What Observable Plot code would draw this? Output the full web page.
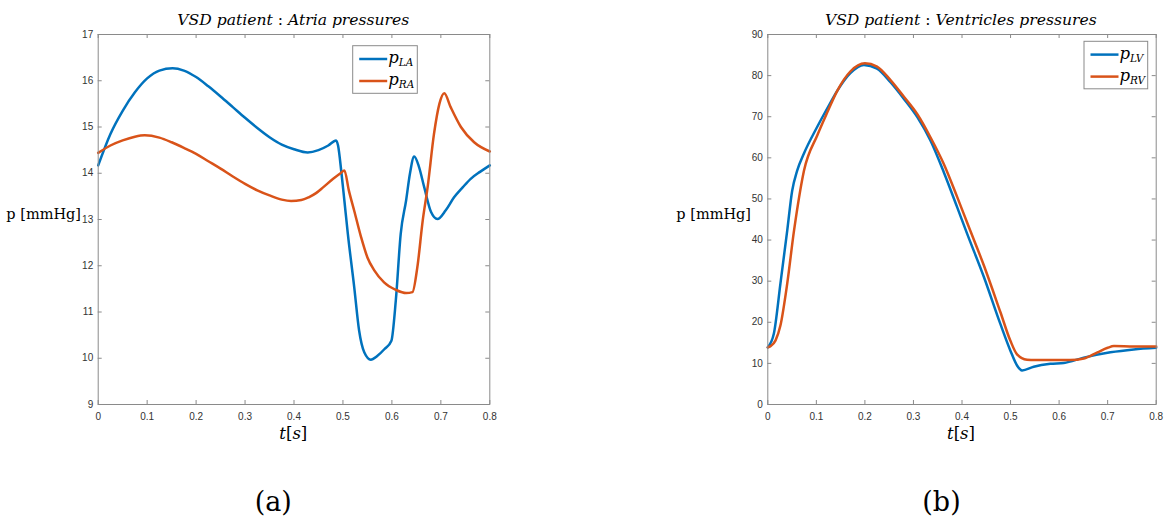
<!DOCTYPE html>
<html>
<head>
<meta charset="utf-8">
<script src="https://cdn.jsdelivr.net/npm/d3@7"></script>
<script src="https://cdn.jsdelivr.net/npm/@observablehq/plot@0.6"></script>
<style>
  html, body { margin: 0; padding: 0; background: #fff; }
  #root { position: relative; width: 1164px; height: 525px; background: #fff; overflow: hidden; }
  #root > svg { position: absolute; top: 0; }
</style>
</head>
<body>
<div id="root"></div>
<script>
// ---------- DATA ----------
// Panel (a): atria pressures
const tLA = [0, 0.025, 0.05, 0.075, 0.1, 0.125, 0.152, 0.175, 0.2, 0.225, 0.25, 0.275, 0.3, 0.325, 0.35, 0.375, 0.4, 0.428, 0.45, 0.47, 0.486, 0.49, 0.497, 0.503, 0.51, 0.523, 0.533, 0.5435, 0.557, 0.57, 0.585, 0.599, 0.608, 0.618, 0.629, 0.637, 0.6455, 0.655, 0.666, 0.68, 0.693, 0.71, 0.727, 0.745, 0.761, 0.78, 0.8];
const pLA = [14.17, 14.85, 15.35, 15.75, 16.05, 16.22, 16.27, 16.22, 16.08, 15.88, 15.66, 15.43, 15.2, 14.98, 14.78, 14.62, 14.52, 14.45, 14.5, 14.6, 14.71, 14.6, 14.0, 13.4, 12.69, 11.54, 10.6, 10.13, 9.97, 10.05, 10.2, 10.38, 11.25, 12.69, 13.41, 14.0, 14.36, 14.15, 13.7, 13.16, 13.01, 13.2, 13.48, 13.7, 13.88, 14.03, 14.17];
const tRA = [0, 0.025, 0.05, 0.075, 0.095, 0.125, 0.15, 0.175, 0.2, 0.225, 0.25, 0.275, 0.3, 0.325, 0.35, 0.375, 0.394, 0.415, 0.43, 0.445, 0.46, 0.48, 0.495, 0.503, 0.512, 0.523, 0.537, 0.55, 0.564, 0.584, 0.608, 0.629, 0.642, 0.652, 0.663, 0.673, 0.686, 0.697, 0.707, 0.72, 0.741, 0.768, 0.8];
const pRA = [14.44, 14.6, 14.71, 14.79, 14.82, 14.77, 14.67, 14.55, 14.42, 14.26, 14.1, 13.93, 13.77, 13.63, 13.52, 13.43, 13.4, 13.42, 13.48, 13.57, 13.7, 13.88, 14.0, 14.06, 13.63, 13.19, 12.62, 12.18, 11.9, 11.64, 11.48, 11.41, 11.43, 11.97, 12.98, 13.7, 14.85, 15.5, 15.73, 15.43, 15.0, 14.67, 14.47];

// Panel (b): ventricles pressures
const tLV = [0, 0.0124, 0.026, 0.04, 0.0502, 0.0605, 0.0742, 0.1016, 0.1223, 0.143, 0.17, 0.198, 0.225, 0.2527, 0.28, 0.308, 0.335, 0.3625, 0.39, 0.4107, 0.4451, 0.479, 0.4997, 0.5134, 0.5237, 0.5477, 0.582, 0.6096, 0.6507, 0.7056, 0.7537, 0.8];
const pLV = [13.9, 17.2, 29.4, 42.3, 52.0, 56.9, 61.0, 67.5, 72.0, 76.3, 80.6, 82.6, 81.7, 78.4, 74.4, 69.9, 64.2, 56.5, 48.0, 41.5, 31.0, 19.6, 13.1, 9.5, 8.3, 9.2, 9.9, 10.1, 11.4, 12.7, 13.4, 13.8];
const tRV = [0, 0.0056, 0.016, 0.026, 0.04, 0.054, 0.0576, 0.0746, 0.102, 0.1223, 0.143, 0.17, 0.2, 0.225, 0.2527, 0.28, 0.308, 0.335, 0.3625, 0.39, 0.4107, 0.4451, 0.479, 0.4997, 0.5134, 0.534, 0.55, 0.582, 0.623, 0.651, 0.679, 0.7, 0.713, 0.754, 0.8];
const pRV = [13.9, 14.2, 15.6, 19.2, 29.4, 42.3, 45.2, 56.9, 65.5, 71.0, 76.3, 81.0, 83.0, 82.2, 78.9, 74.9, 70.6, 65.0, 58.5, 50.5, 44.2, 33.8, 22.5, 15.5, 12.2, 10.9, 10.8, 10.8, 10.8, 11.2, 12.7, 13.8, 14.2, 14.1, 14.1];

const xTicks = [0, 0.1, 0.2, 0.3, 0.4, 0.5, 0.6, 0.7, 0.8];
const yTicksA = [9, 10, 11, 12, 13, 14, 15, 16, 17];
const yTicksB = [0, 10, 20, 30, 40, 50, 60, 70, 80, 90];

const titles = ["VSD patient", "Atria pressures", "Ventricles pressures"];
const seriesNamesA = ["LA", "RA"];
const seriesNamesB = ["LV", "RV"];
const blue = "#0072BD", orange = "#D95319";

// ---------- CHART ----------
const zip = (ts, ps) => ts.map((t, i) => ({t, p: ps[i]}));
const axisColor = "#8a8a8a";
const SERIF = "DejaVu Serif";

function panel({left, mL, mR, yDomain, yTicks, series}) {
  const W = 582, H = 525, mT = 34, mB = 121;
  const iw = W - mL - mR, ih = H - mT - mB;
  const tick = 4;
  const svg = Plot.plot({
    width: W, height: H,
    marginLeft: mL, marginRight: mR, marginTop: mT, marginBottom: mB,
    x: {domain: [0, 0.8]},
    y: {domain: yDomain},
    style: {fontFamily: "'Liberation Sans', Arial, sans-serif", fontSize: "10px", color: "#333", background: "transparent", overflow: "visible"},
    marks: [
      Plot.ruleX(xTicks, {x: d => d, insetTop: ih - tick, stroke: axisColor}),
      Plot.ruleX(xTicks, {x: d => d, insetBottom: ih - tick, stroke: axisColor}),
      Plot.ruleY(yTicks, {y: d => d, insetRight: iw - tick, stroke: axisColor}),
      Plot.ruleY(yTicks, {y: d => d, insetLeft: iw - tick, stroke: axisColor}),
      ...series.map(s => Plot.line(s.data, {x: "t", y: "p", stroke: s.color, strokeWidth: 2.5, curve: "monotone-x"})),
      Plot.frame({stroke: axisColor}),
      Plot.axisX(xTicks, {tickSize: 0, tickPadding: 8, tickFormat: d => String(d), label: null}),
      Plot.axisY(yTicks, {tickSize: 0, tickPadding: 5, tickFormat: d => String(d), label: null})
    ]
  });
  svg.style.left = left + "px";
  return svg;
}

const root = document.getElementById("root");
root.appendChild(panel({
  left: 0, mL: 97.7, mR: 582 - 489.3, yDomain: [9, 17], yTicks: yTicksA,
  series: [{data: zip(tLA, pLA), color: blue}, {data: zip(tRA, pRA), color: orange}]
}));
root.appendChild(panel({
  left: 582, mL: 767.3 - 582, mR: 1164 - 1155.7, yDomain: [0, 90], yTicks: yTicksB,
  series: [{data: zip(tLV, pLV), color: blue}, {data: zip(tRV, pRV), color: orange}]
}));

// ---------- TEXT OVERLAY (titles, labels, legends) ----------
const NS = "http://www.w3.org/2000/svg";
const ov = document.createElementNS(NS, "svg");
ov.setAttribute("width", 1164); ov.setAttribute("height", 525);
ov.style.left = "0px";
root.appendChild(ov);

function el(tag, attrs, parent = ov) {
  const e = document.createElementNS(NS, tag);
  for (const k in attrs) e.setAttribute(k, attrs[k]);
  parent.appendChild(e);
  return e;
}
function txt(attrs) {
  const e = el("text", Object.assign({fill: "#000"}, attrs));
  e.style.fontFamily = SERIF;
  return e;
}
function tspan(parent, text, attrs = {}) {
  const s = el("tspan", attrs, parent);
  s.textContent = text;
  return s;
}

// titles
[[293.3, titles[1]], [960.8, titles[2]]].forEach(([cx, second]) => {
  const t = txt({x: cx, y: 24.5, "text-anchor": "middle", "font-size": 15.6});
  tspan(t, titles[0], {"font-style": "italic"});
  tspan(t, " : ");
  tspan(t, second, {"font-style": "italic"});
});

// y labels
txt({x: 81, y: 219, "text-anchor": "end", "font-size": 14.5}).textContent = "p [mmHg]";
txt({x: 751, y: 219, "text-anchor": "end", "font-size": 14.5}).textContent = "p [mmHg]";

// x labels
[293.3, 961].forEach(cx => {
  const t = txt({x: cx, y: 439, "text-anchor": "middle", "font-size": 16.5});
  tspan(t, "t", {"font-style": "italic"});
  tspan(t, "[");
  tspan(t, "s", {"font-style": "italic"});
  tspan(t, "]");
});

// (a) (b)
txt({x: 273.3, y: 511, "text-anchor": "middle", "font-size": 27}).textContent = "(a)";
txt({x: 941.5, y: 511, "text-anchor": "middle", "font-size": 27}).textContent = "(b)";

// legends
function legend(x, y, w, h, names) {
  el("rect", {x, y, width: w, height: h, fill: "#fff", stroke: axisColor, "stroke-width": 1});
  [blue, orange].forEach((c, i) => {
    const ly = y + 13.3 + i * 22;
    el("line", {x1: x + 6.5, x2: x + 34.5, y1: ly, y2: ly, stroke: c, "stroke-width": 2.5});
    const t = txt({x: x + 35.5, y: ly + 4, "font-size": 16.5});
    tspan(t, "p", {"font-style": "italic"});
    tspan(t, names[i], {"font-style": "italic", "font-size": 10.5, dy: 3});
  });
}
legend(352.7, 45.7, 64.6, 47.6, seriesNamesA);
legend(1084, 41.3, 63.7, 47.5, seriesNamesB);
</script>
</body>
</html>
